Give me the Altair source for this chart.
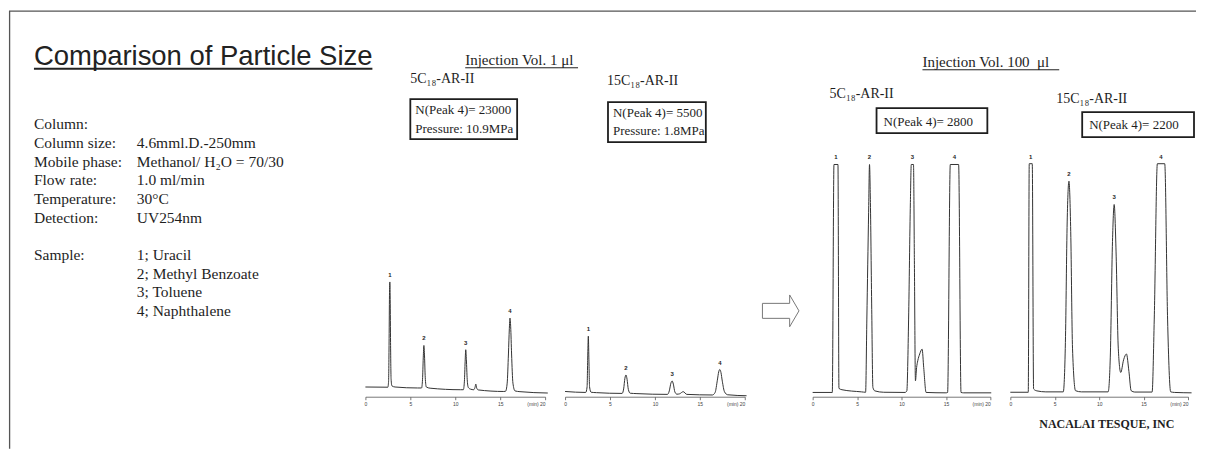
import altair as alt
import pandas as pd

SERIF = "Liberation Serif, DejaVu Serif, serif"
SANS = "Liberation Sans, Arial, sans-serif"
INK = "#1e1e1e"
LINE = "#333333"
NB = "\u00a0"

# ---------------- text content ----------------
title_text = "Comparison of Particle Size"
cond_labels = ["Column:", "Column size:", "Mobile phase:", "Flow rate:", "Temperature:",
               "Detection:", "", "Sample:", "", "", ""]
cond_values = ["", NB + "4.6mml.D.-250mm", "Methanol/ H\u2082O = 70/30", "1.0 ml/min", "30\u00b0C",
               "UV254nm", "", "1; Uracil", "2; Methyl Benzoate", "3; Toluene", "4; Naphthalene"]
inj_small = "Injection Vol. 1 \u03bcl"
inj_large = "Injection Vol. 100" + NB + NB + "\u03bcl"
col_5 = "5C\u2081\u2088-AR-II"
col_15 = "15C\u2081\u2088-AR-II"
n_plates = ["N(Peak 4)= 23000", "N(Peak 4)= 5500", "N(Peak 4)= 2800", "N(Peak 4)= 2200"]
pressures = ["Pressure: 10.9MPa", "Pressure: 1.8MPa"]
maker = "NACALAI TESQUE, INC"
peak_names = ["1", "2", "3", "4"]

# ---------------- chromatograms (time in min, signal in a.u.) ----------------
p1_t = [0, 2.50, 2.58, 2.64, 2.68, 2.72, 2.76, 2.80, 2.86, 2.95, 3.3, 5.8,
        6.25, 6.36, 6.44, 6.51, 6.58, 6.66, 6.78, 7.2, 10.6,
        10.9, 11.02, 11.1, 11.17, 11.24, 11.33, 11.45, 11.7, 12.05, 12.2, 12.29, 12.38, 12.55,
        15.4, 15.6, 15.78, 15.92, 16.02, 16.09, 16.17, 16.27, 16.42, 16.65, 17.2, 20.3]
p1_v = [5.0, 4.9, 8, 30, 52, 59.1, 50, 28, 9, 5.6, 5.0, 4.5,
        4.5, 9, 20, 26.4, 21, 10, 5, 4.4, 3.6,
        3.6, 8, 18, 24.2, 19, 9, 4.8, 3.9, 3.6, 4.8, 6.5, 4.6, 3.5,
        2.7, 2.8, 7, 22, 35, 40.5, 36, 22, 7, 3.0, 2.6, 1.9]
p1_pk_t = [2.72, 6.51, 11.17, 16.09]
p1_pk_v = [59.1, 26.4, 24.2, 40.5]

p2_t = [0, 2.3, 2.45, 2.53, 2.59, 2.65, 2.73, 2.9, 3.5, 6.35, 6.52, 6.66, 6.78, 6.9, 7.04, 7.25, 8,
        11.4, 11.6, 11.78, 11.92, 12.05, 12.22, 12.45, 12.75, 13.15, 13.55,
        16.4, 16.7, 16.95, 17.1, 17.22, 17.35, 17.5, 17.75, 18.1, 20.2]
p2_v = [2.7, 2.2, 5, 22, 31.2, 20, 5, 2.3, 2.1, 1.7, 4, 9.5, 11.2, 9, 3.8, 1.8, 1.6,
        1.2, 3, 7, 8.1, 6.5, 2.5, 1.3, 1.5, 2.6, 1.2,
        0.9, 2.2, 8.5, 12.8, 14.0, 12.5, 8, 2.5, 1.0, 0.5]
p2_pk_t = [2.59, 6.78, 11.92, 17.22]
p2_pk_v = [31.2, 11.2, 8.1, 14.0]

p3_t = [0, 2.21, 2.40, 2.85, 2.96, 3.3, 5.5, 5.96, 6.1, 6.3, 6.4, 6.5, 6.65, 6.78, 7.0, 8.0,
        10.4, 10.6, 10.8, 11.0, 11.1, 11.35, 11.45, 11.57, 11.7, 11.83, 12.05, 12.32, 12.5, 12.77,
        15.0, 15.19, 15.49, 16.43, 16.7, 17.0, 20.1]
p3_v = [2.2, 2.2, 119.6, 119.6, 4.3, 3.6, 2.5, 2.3, 40, 95, 119.6, 100, 45, 4.8, 3.0, 2.3,
        2.2, 3, 40, 100, 119.6, 119.6, 70, 8.2, 15, 18.5, 22, 24.5, 15, 2.2,
        2.0, 2.2, 119.6, 119.6, 2.2, 2.0, 2.0]
p3_pk_t = [2.62, 6.4, 11.22, 15.96]
p3_pk_v = [119.6, 119.6, 119.6, 119.6]

p4_t = [0, 2.02, 2.13, 2.47, 2.62, 3.0, 4.0, 5.96, 6.2, 6.4, 6.6, 6.8, 7.0, 7.34, 8.0,
        11.01, 11.25, 11.5, 11.69, 11.9, 12.15, 12.43, 12.75, 13.07, 13.35, 13.6, 14,
        15.96, 16.2, 16.55, 17.38, 17.7, 18.05, 18.5, 20.4]
p4_v = [2.3, 2.3, 120, 120, 4.0, 3.0, 2.5, 2.5, 28, 90, 111, 85, 25, 3.1, 2.5,
        2.5, 20, 80, 99, 75, 25, 12.5, 19, 22, 13, 3.1, 2.4,
        2.4, 40, 120, 120, 40, 2.5, 2.2, 2.0]
p4_pk_t = [2.3, 6.6, 11.69, 16.96]
p4_pk_v = [120, 111, 99, 120]

H = 389
ROW0, ROWH = 121, 18.7


def txt(s, x, y, size, font=SERIF, weight="normal", align="left", color=INK):
    return alt.Chart(pd.DataFrame({"s": [s]})).mark_text(
        align=align, baseline="alphabetic", font=font, fontSize=size,
        fontWeight=weight, color=color
    ).encode(x=alt.value(x), y=alt.value(y), text="s:N")


def hrule(x1, x2, y, w=1.0, color=INK):
    return alt.Chart(pd.DataFrame({"a": [0]})).mark_rule(stroke=color, strokeWidth=w).encode(
        x=alt.value(x1), x2=alt.value(x2), y=alt.value(y))


def vrule(x, y1, y2, w=1.0, color=INK):
    return alt.Chart(pd.DataFrame({"a": [0]})).mark_rule(stroke=color, strokeWidth=w).encode(
        x=alt.value(x), y=alt.value(y1), y2=alt.value(y2))


def box(x1, x2, y1, y2):
    return alt.Chart(pd.DataFrame({"a": [0]})).mark_rect(
        fill="white", fillOpacity=0, stroke=INK, strokeWidth=1.8
    ).encode(x=alt.value(x1), x2=alt.value(x2), y=alt.value(y1), y2=alt.value(y2))


AXIS = alt.Axis(
    values=[0, 5, 10, 15, 20], title=None, grid=False,
    domainColor="#555", domainWidth=0.8, tickColor="#555", tickWidth=0.8, tickSize=3,
    labelFont=SANS, labelFontSize=5, labelColor="#444", labelPadding=1.5,
    labelExpr="datum.value == 20 ? '(min) 20' : datum.label",
    labelAlign={"condition": {"test": "datum.value == 20", "value": "right"}, "value": "center"},
    labelFlush=False, labelOverlap=False,
)


def chrom(t, v, pk_t, pk_v, width, annotations):
    x_enc = alt.X("t:Q", scale=alt.Scale(domain=[0, 20], nice=False, zero=False), axis=AXIS)
    y_enc = alt.Y("v:Q", scale=alt.Scale(domain=[0, 200], nice=False), axis=None)
    line = alt.Chart(pd.DataFrame({"t": t, "v": v})).mark_line(
        interpolate="monotone", color=LINE, strokeWidth=1, clip=False
    ).encode(x=x_enc, y=y_enc)
    labs = alt.Chart(pd.DataFrame({"t": pk_t, "v": pk_v, "n": peak_names})).mark_text(
        font=SANS, fontSize=6, fontWeight="bold", dy=-7, baseline="middle", color=INK
    ).encode(x=alt.X("t:Q"), y=alt.Y("v:Q"), text="n:N")
    return alt.layer(line, labs, *annotations).properties(width=width, height=H)


# ---------------- left text panel ----------------
rows = pd.DataFrame({"label": cond_labels, "value": cond_values,
                     "row": list(range(len(cond_labels)))})
row_base = alt.Chart(rows).transform_calculate(ypx=f"{ROW0} + datum.row * {ROWH}")
lab_layer = row_base.mark_text(align="left", baseline="alphabetic", font=SERIF,
                               fontSize=15.5, color=INK).encode(
    x=alt.value(25), y=alt.Y("ypx:Q", scale=None, axis=None), text="label:N")
val_layer = row_base.mark_text(align="left", baseline="alphabetic", font=SERIF,
                               fontSize=15.5, color=INK).encode(
    x=alt.value(128), y=alt.Y("ypx:Q", scale=None, axis=None), text="value:N")

left = alt.layer(
    hrule(0, 1189, 2.7, 1.3, "#555"),
    vrule(0.6, 2.7, 441, 1.3, "#555"),
    txt(title_text, 25, 57, 27.5, font=SANS, color="#222"),
    hrule(25, 364, 60.5, 2.0, "#222"),
    lab_layer, val_layer,
).properties(width=337, height=H)

# ---------------- chromatogram panels ----------------
p1 = chrom(p1_t, p1_v, p1_pk_t, p1_pk_v, 180, [
    txt(inj_small, 100, 57, 15),
    hrule(100, 213, 59.5, 1.0),
    txt(col_5, 45, 75, 14),
    box(45, 152, 91, 131),
    txt(n_plates[0], 50, 106, 13),
    txt(pressures[0], 50, 125, 13),
])
p2 = chrom(p2_t, p2_v, p2_pk_t, p2_pk_v, 180, [
    txt(col_15, 42, 77, 14),
    box(43, 141, 94, 134),
    txt(n_plates[1], 48, 109, 13),
    txt(pressures[1], 48, 127, 13),
])

ARROW = "M -1 -0.41 L 0.49 -0.41 L 0.49 -0.87 L 1 0 L 0.49 0.87 L 0.49 0.41 L -1 0.41 Z"
arrow = alt.Chart(pd.DataFrame({"a": [0]})).mark_point(
    shape=ARROW, size=1340, filled=True, fill="white", fillOpacity=1,
    stroke="#777", strokeWidth=1, strokeOpacity=1, opacity=1
).encode(x=alt.value(16), y=alt.value(303)).properties(width=28, height=H)

p3 = chrom(p3_t, p3_v, p3_pk_t, p3_pk_v, 178, [
    txt(inj_large, 110, 59, 15),
    hrule(110, 247, 61.5, 1.0),
    txt(col_5, 17, 90, 14),
    box(64, 175, 100, 125),
    txt(n_plates[2], 71, 118, 13),
])
p4 = chrom(p4_t, p4_v, p4_pk_t, p4_pk_v, 178, [
    txt(col_15, 46, 95, 14),
    box(72, 184, 104, 129),
    txt(n_plates[3], 79, 121, 13),
    txt(maker, 29, 420, 12, weight="bold"),
])

chart = alt.hconcat(left, p1, p2, arrow, p3, p4, spacing=20, bounds="flush",
                    padding=0, background="white").configure_view(stroke=None)

chart.save("out.html", embed_options={"renderer": "svg", "actions": False})
